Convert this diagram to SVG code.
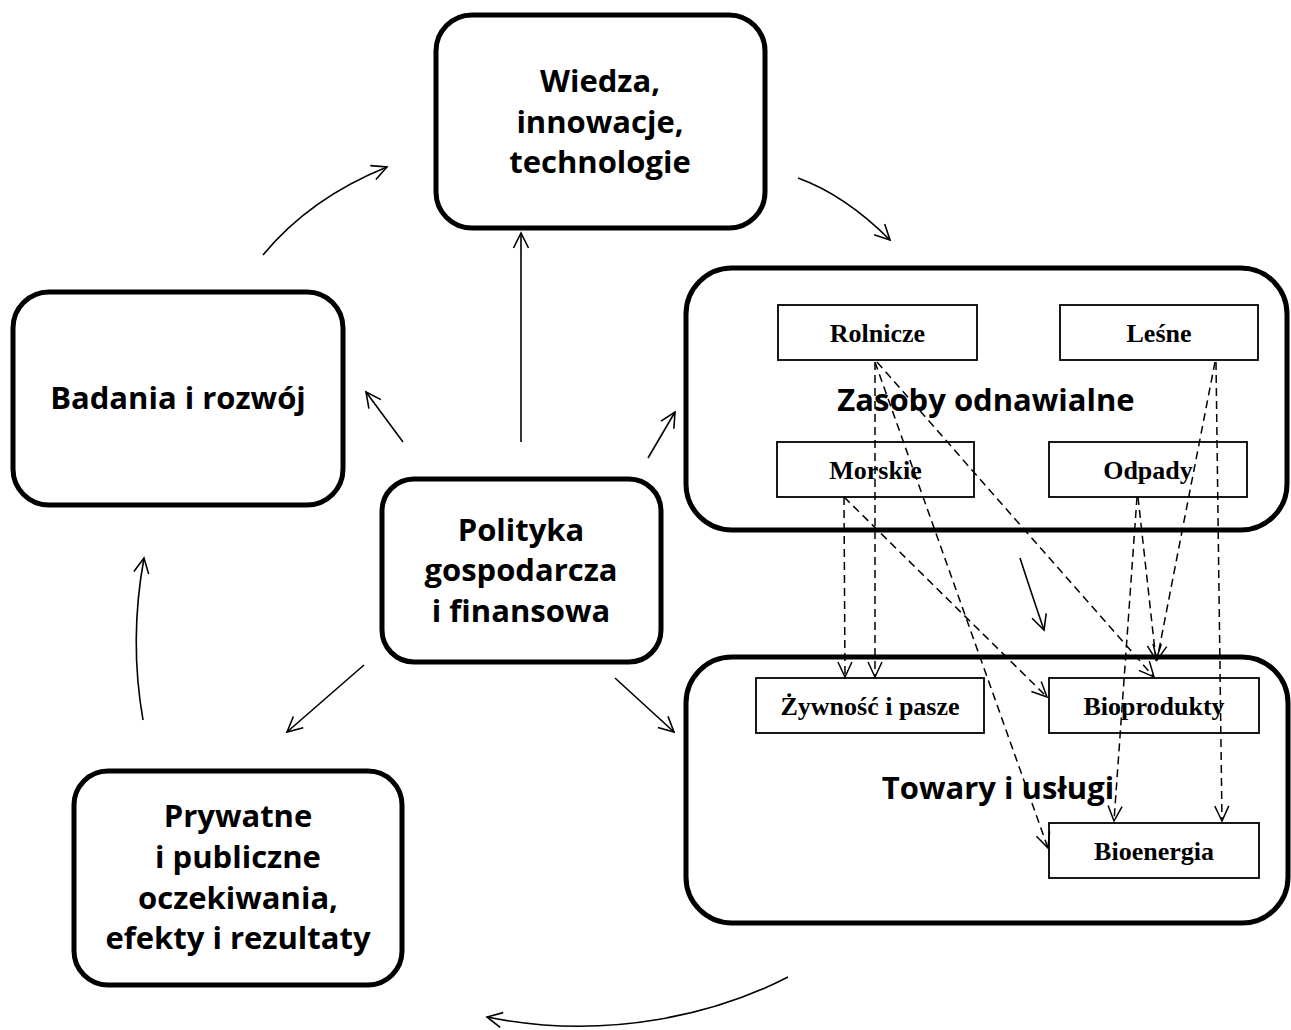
<svg xmlns="http://www.w3.org/2000/svg" width="1291" height="1030" viewBox="0 0 1291 1030">
<style>
.big{fill:#fff;stroke:#000;stroke-width:5}
.small{fill:#fff;stroke:#000;stroke-width:1.8}
.t{font-family:"Open Sans","Liberation Sans",sans-serif;font-weight:bold;font-size:31px;text-anchor:middle;fill:#000}
.s{font-family:"Liberation Serif","Times New Roman",serif;font-weight:bold;font-size:26px;text-anchor:middle;fill:#000}
.c{fill:none;stroke:#000;stroke-width:1.6}
.d{fill:none;stroke:#000;stroke-width:1.5;stroke-dasharray:8 5}
</style>
<defs>
<marker id="ah" viewBox="-18 -10 20 20" refX="0" refY="0" markerWidth="20" markerHeight="20" markerUnits="userSpaceOnUse" orient="auto">
<path d="M-15,-7.5 L0,0 L-15,7.5" fill="none" stroke="#000" stroke-width="1.6"/>
</marker>
<marker id="dh" viewBox="-18 -10 20 20" refX="0" refY="0" markerWidth="20" markerHeight="20" markerUnits="userSpaceOnUse" orient="auto">
<path d="M-15,-7 L0,0 L-15,7" fill="none" stroke="#000" stroke-width="1.5"/>
</marker>
</defs>
<rect width="1291" height="1030" fill="#fff"/>

<g id="wiedza">
<rect class="big" x="436" y="15" width="329" height="213" rx="36"/>
<text class="t" x="600" y="92">Wiedza,</text>
<text class="t" x="600" y="132.5">innowacje,</text>
<text class="t" x="600" y="173">technologie</text>
</g>
<g id="badania">
<rect class="big" x="13" y="292" width="330" height="213" rx="36"/>
<text class="t" x="178" y="409">Badania i rozwój</text>
</g>
<g id="polityka">
<rect class="big" x="382" y="479" width="279" height="183" rx="32"/>
<text class="t" x="521" y="541">Polityka</text>
<text class="t" x="521" y="581">gospodarcza</text>
<text class="t" x="521" y="622">i finansowa</text>
</g>
<g id="prywatne">
<rect class="big" x="74" y="771" width="328" height="214" rx="34"/>
<text class="t" x="238" y="827">Prywatne</text>
<text class="t" x="238" y="868">i publiczne</text>
<text class="t" x="238" y="909">oczekiwania,</text>
<text class="t" x="238" y="949">efekty i rezultaty</text>
</g>
<g id="zasoby">
<rect class="big" x="686" y="268" width="601" height="262" rx="46"/>
<text class="t" x="986" y="411">Zasoby odnawialne</text>
</g>
<g id="towary">
<rect class="big" x="686" y="657" width="602" height="266" rx="46"/>
<text class="t" x="998" y="799">Towary i usługi</text>
</g>
<g id="rolnicze">
<rect class="small" x="778" y="305" width="199" height="55"/>
<text class="s" x="877.5" y="342">Rolnicze</text>
</g>
<g id="lesne">
<rect class="small" x="1060" y="305" width="198" height="55"/>
<text class="s" x="1159" y="342">Leśne</text>
</g>
<g id="morskie">
<rect class="small" x="777" y="442" width="197" height="55"/>
<text class="s" x="875.5" y="479">Morskie</text>
</g>
<g id="odpady">
<rect class="small" x="1049" y="442" width="198" height="55"/>
<text class="s" x="1148" y="479">Odpady</text>
</g>
<g id="zywnosc">
<rect class="small" x="756" y="678" width="228" height="55"/>
<text class="s" x="870" y="715">Żywność i pasze</text>
</g>
<g id="bioprodukty">
<rect class="small" x="1049" y="678" width="210" height="55"/>
<text class="s" x="1154" y="715">Bioprodukty</text>
</g>
<g id="bioenergia">
<rect class="small" x="1049" y="823" width="210" height="55"/>
<text class="s" x="1154" y="860">Bioenergia</text>
</g>

<g id="connectors">
<path class="c" d="M263,255 Q310,198 387,167" marker-end="url(#ah)"/>
<path class="c" d="M798,178 Q845,195 890,240" marker-end="url(#ah)"/>
<path class="c" d="M1020,558 Q1031,592 1044,630" marker-end="url(#ah)"/>
<path class="c" d="M521,442 L521,233" marker-end="url(#ah)"/>
<path class="c" d="M403,442 L366,392" marker-end="url(#ah)"/>
<path class="c" d="M648,458 L675,412" marker-end="url(#ah)"/>
<path class="c" d="M364,665 L287,732" marker-end="url(#ah)"/>
<path class="c" d="M615,678 L674,732" marker-end="url(#ah)"/>
<path class="c" d="M143,720 Q129,640 144,558" marker-end="url(#ah)"/>
<path class="c" d="M788,977 C720,1012 610,1042 487,1017" marker-end="url(#ah)"/>

<path class="d" d="M875,362 L875,677" marker-end="url(#dh)"/>
<path class="d" d="M844,497 L845,677" marker-end="url(#dh)"/>
<path class="d" d="M844,497 L1047,697" marker-end="url(#dh)"/>
<path class="d" d="M875,362 L1048,848" marker-end="url(#dh)"/>
<path class="d" d="M877,362 L1154,677" marker-end="url(#dh)"/>
<path class="d" d="M1215,362 L1157,660" marker-end="url(#dh)"/>
<path class="d" d="M1216,362 L1222,821" marker-end="url(#dh)"/>
<path class="d" d="M1138,497 L1156,660" marker-end="url(#dh)"/>
<path class="d" d="M1137,497 L1114,821" marker-end="url(#dh)"/>
</g>
</svg>
